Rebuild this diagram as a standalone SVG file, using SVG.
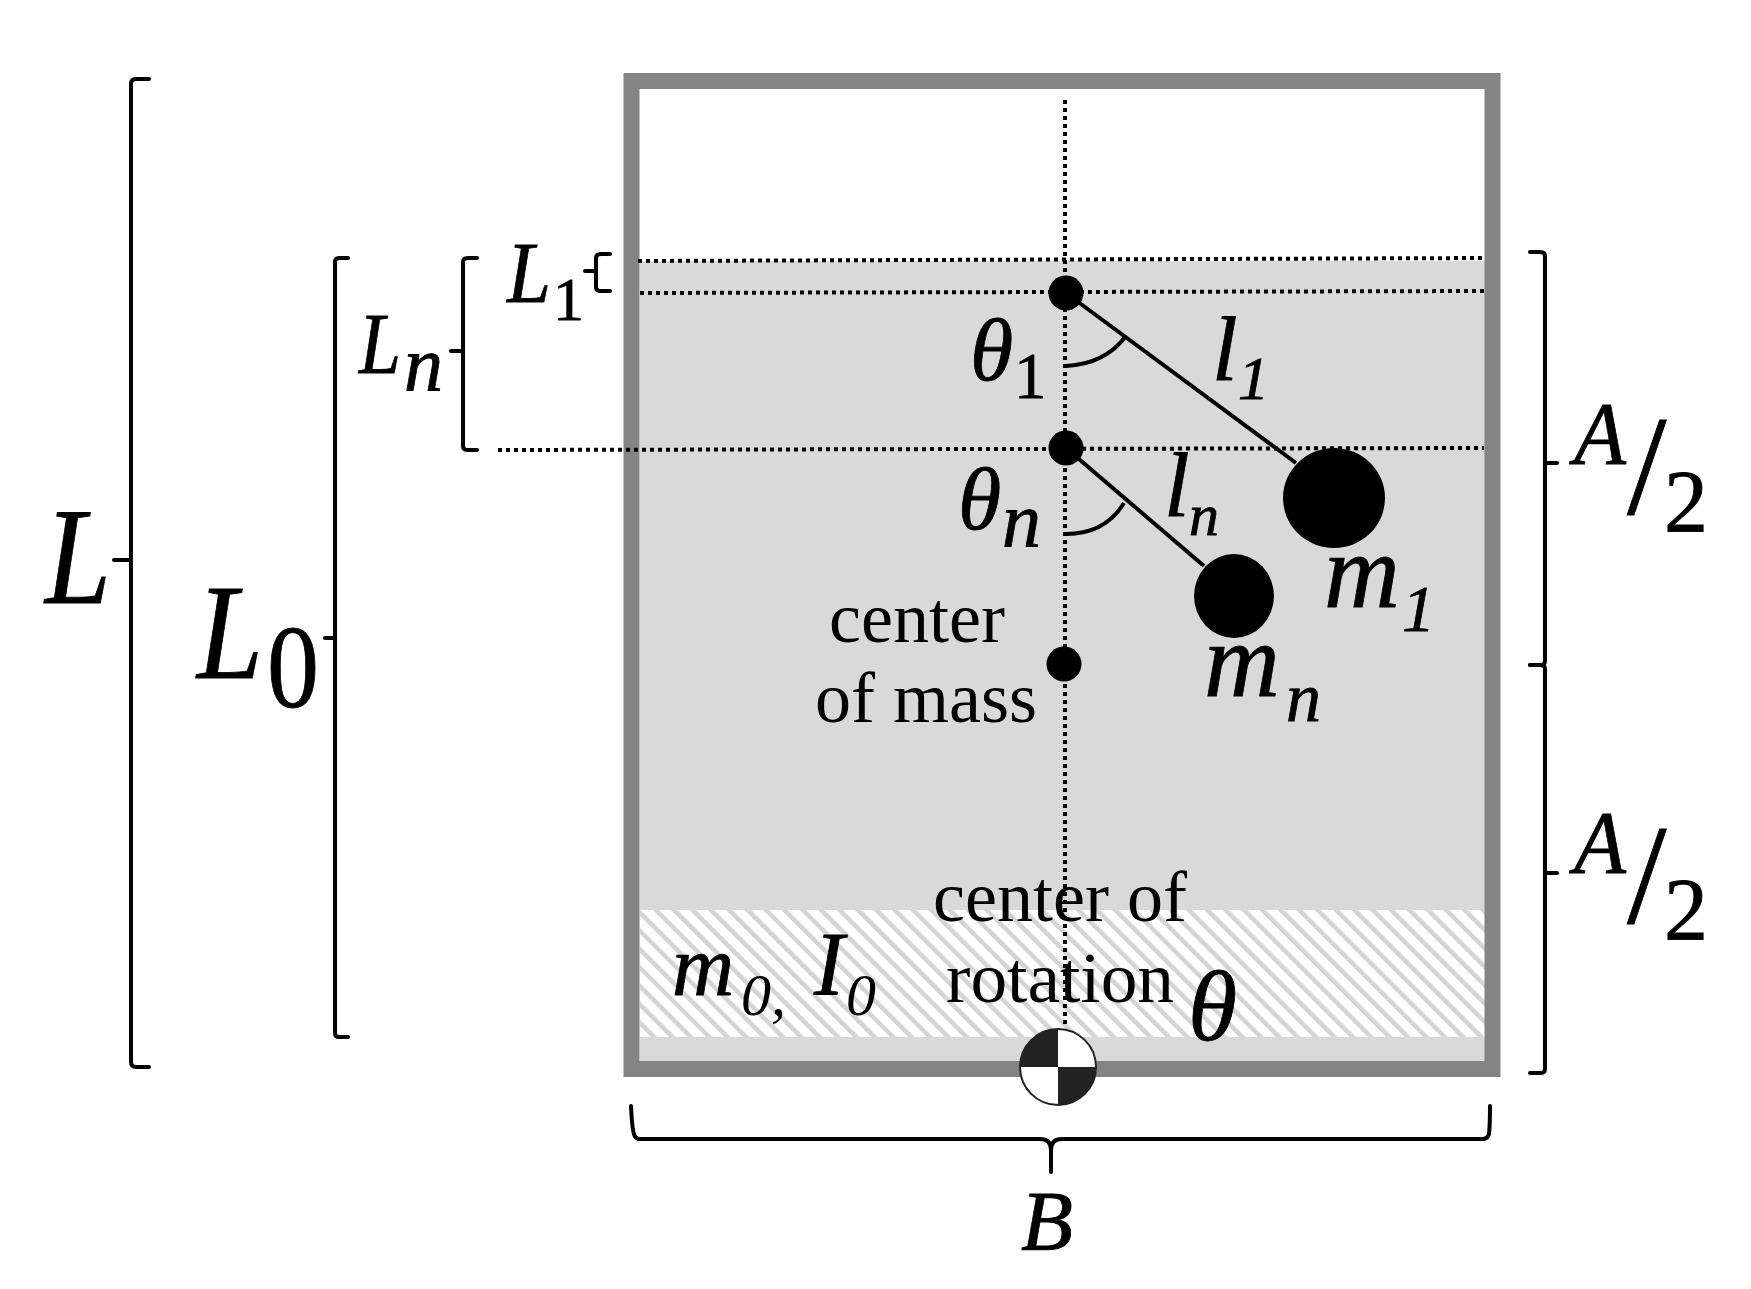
<svg xmlns="http://www.w3.org/2000/svg" width="1751" height="1289" viewBox="0 0 1751 1289">
<style>
text{font-family:"Liberation Serif","Times New Roman",serif;fill:#000}
.i{font-style:italic}
.m{stroke:#000;stroke-width:0.8}
.br{fill:none;stroke:#000;stroke-width:4;stroke-linejoin:round;stroke-linecap:round}
.dot{fill:none;stroke:#000;stroke-width:4;stroke-dasharray:4 4}
.rod{fill:none;stroke:#000;stroke-width:4}
</style>
<defs>
<pattern id="hatch" width="13" height="13" patternUnits="userSpaceOnUse" patternTransform="rotate(-45)">
<rect width="13" height="13" fill="#fff"/>
<rect width="4.500" height="13" fill="#d4d4d4"/>
</pattern>
<filter id="soft" filterUnits="userSpaceOnUse" x="0" y="0" width="1751" height="1289"><feGaussianBlur stdDeviation="0.6"/></filter>
</defs>
<rect width="1751" height="1289" fill="#fff"/>
<g filter="url(#soft)">
<g id="body">
<rect x="640" y="261" width="845" height="800" fill="#d9d9d9"/>
<rect x="640" y="910" width="845" height="127" fill="url(#hatch)"/>
<rect x="631.500" y="81" width="861" height="988" fill="none" stroke="#848484" stroke-width="16"/>
</g>
<g id="connectors">
<path class="dot" d="M1065 100V1027"/>
<path class="dot" d="M638 261L1486 258"/>
<path class="dot" d="M640 293L1486 291"/>
<path class="dot" d="M498 450L1484 448"/>
<path class="rod" d="M1066 293L1296 463"/>
<path class="rod" d="M1066 448L1204 566"/>
<path class="rod" d="M1066 366Q1105 364 1126 336"/>
<path class="rod" d="M1066 534Q1105 534 1124 503"/>
<path class="br" d="M149 79H136Q131 79 131 84V1062Q131 1067 136 1067H149M131 560H114"/>
<path class="br" d="M348 258H339Q335 258 335 262V1033Q335 1037 339 1037H348M335 638H325"/>
<path class="br" d="M477 258H468Q463 258 463 262V446Q463 450 468 450H477M463 351H451"/>
<path class="br" d="M610 254H601Q596 254 596 258V287Q596 291 601 291H610M596 271H585"/>
<path class="br" d="M1530 252H1540Q1545 252 1545 256V661Q1545 665 1540 665H1530M1545 463H1557"/>
<path class="br" d="M1530 665H1540Q1545 665 1545 669V1069Q1545 1073 1540 1073H1530M1545 873H1557"/>
<path class="br" d="M631 1106Q632 1128 634 1134Q635 1139 640 1139H1040Q1051 1139 1051 1150V1172M1051 1150Q1051 1139 1062 1139H1482Q1488 1139 1489 1134Q1490 1125 1490 1106"/>
</g>
<g id="pivot-1"><circle cx="1066" cy="293" r="17.500"/></g>
<g id="pivot-n"><circle cx="1066" cy="448" r="17.500"/></g>
<g id="center-of-mass-point"><circle cx="1064" cy="664" r="17.500"/></g>
<g id="mass-1"><ellipse cx="1334" cy="498" rx="51" ry="50"/></g>
<g id="mass-n"><ellipse cx="1234" cy="596" rx="40" ry="42"/></g>
<g id="center-of-rotation">
<circle cx="1058" cy="1067" r="38" fill="#fff" stroke="#222" stroke-width="2"/>
<path d="M1058 1067V1029A38 38 0 0 0 1020 1067ZM1058 1067V1105A38 38 0 0 0 1096 1067Z" fill="#222"/>
</g>
<g id="labels">
<text class="i m" x="45" y="603" font-size="137" textLength="66" lengthAdjust="spacingAndGlyphs">L</text>
<text class="i m" x="197" y="678" font-size="136" textLength="66" lengthAdjust="spacingAndGlyphs">L</text><text class="m" x="267" y="707" font-size="118" textLength="52" lengthAdjust="spacingAndGlyphs">0</text>
<text class="i m" x="359" y="373" font-size="87" textLength="42" lengthAdjust="spacingAndGlyphs">L</text><text class="i m" x="404" y="391" font-size="78">n</text>
<text class="i m" x="507" y="302" font-size="87" textLength="44" lengthAdjust="spacingAndGlyphs">L</text><text class="m" x="553" y="320" font-size="62">1</text>
<text class="i m" x="970" y="380" font-size="88">θ</text><text class="m" x="1014" y="398" font-size="65">1</text>
<text class="i m" x="958" y="529" font-size="88">θ</text><text class="i m" x="1002" y="547" font-size="78">n</text>
<text class="i m" x="1212" y="380" font-size="92">l</text><text class="i m" x="1238" y="399" font-size="62">1</text>
<text class="i m" x="1164" y="516" font-size="92">l</text><text class="i m" x="1189" y="535" font-size="60">n</text>
<text class="i m" x="1324" y="607" font-size="105">m</text><text class="i m" x="1402" y="631" font-size="66">1</text>
<text class="i m" x="1204" y="696" font-size="105">m</text><text class="i m" x="1286" y="721" font-size="70">n</text>
<text x="917" y="642" font-size="72" text-anchor="middle">center</text>
<text x="926" y="722" font-size="72" text-anchor="middle">of mass</text>
<text x="1060" y="921" font-size="72" text-anchor="middle">center of</text>
<text x="1060" y="1002" font-size="72" text-anchor="middle" textLength="228" lengthAdjust="spacingAndGlyphs">rotation</text>
<text class="i m" x="1188" y="1040" font-size="100">θ</text>
<text class="i m" x="672" y="995" font-size="86">m</text><text class="i" x="741" y="1015" font-size="60">0,</text>
<text class="i m" x="814" y="995" font-size="90">I</text><text class="i" x="846" y="1015" font-size="60">0</text>
<text class="i m" x="1021" y="1250" font-size="85">B</text>
<text class="i m" x="1574" y="463" font-size="88" textLength="52" lengthAdjust="spacingAndGlyphs">A</text><text class="m" x="1627" y="514" font-size="142">/</text><text class="m" x="1664" y="531" font-size="88">2</text>
<text class="i m" x="1574" y="872" font-size="88" textLength="52" lengthAdjust="spacingAndGlyphs">A</text><text class="m" x="1627" y="923" font-size="142">/</text><text class="m" x="1664" y="939" font-size="88">2</text>
</g>
</g>
</svg>
